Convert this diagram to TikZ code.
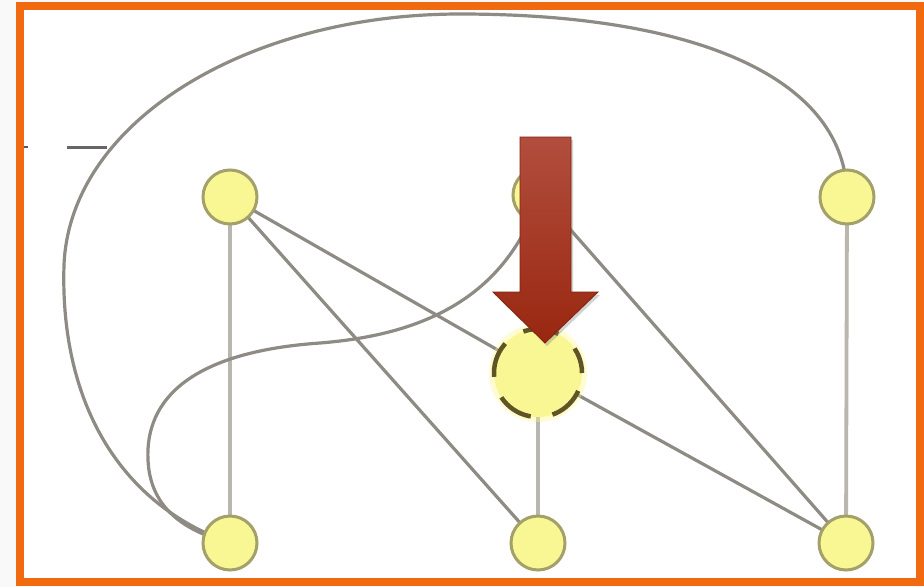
\documentclass[tikz,border=0pt]{standalone}
\usetikzlibrary{shadows}
\definecolor{frameor}{HTML}{F26A0F}
\definecolor{edgegray}{HTML}{8E8B84}
\definecolor{lightedge}{HTML}{B9B5AF}
\definecolor{nodefill}{HTML}{F8F794}
\definecolor{nodeline}{HTML}{A3A06A}
\definecolor{gline}{HTML}{5E5426}
\definecolor{arrtop}{HTML}{B24E3E}
\definecolor{arrbot}{HTML}{992710}
\begin{document}
\begin{tikzpicture}[x=1pt,y=-1pt,
  vert/.style={circle,draw=nodeline,line width=3pt,fill=nodefill,minimum size=54pt,inner sep=0pt},
  bigvert/.style={circle,draw=gline,line width=4.5pt,fill=nodefill,minimum size=88pt,inner sep=0pt,dash pattern=on 36pt off 22pt,dash phase=10pt},
  edge/.style={draw=edgegray,line width=3.2pt},
  ledge/.style={draw=lightedge,line width=3.8pt}]
\useasboundingbox (0,0) rectangle (924,587);
\fill[white!95!gray] (0,0) rectangle (924,587);
\fill[white] (20,6) rectangle (920,582);
% centres
\coordinate (Ac) at (230,197);
\coordinate (Bc) at (540,195);
\coordinate (Cc) at (847,197);
\coordinate (Dc) at (230,543);
\coordinate (Ec) at (538,543);
\coordinate (Fc) at (846,543);
\coordinate (Gc) at (538,373);
% edges
\draw[ledge] (Ac) -- (Dc);
\draw[ledge] (Cc) -- (Fc);
\draw[ledge] (Gc) -- (Ec);
\draw[edge] (Ac) -- (Gc);
\draw[edge] (Ac) -- (Ec);
\draw[edge] (Bc) -- (Fc);
\draw[edge] (Gc) -- (Fc);
\draw[edge] (Dc) .. controls (110,500) and (60,390) .. (64,265)
  .. controls (70,120) and (250,14) .. (460,14)
  .. controls (700,14) and (847,80) .. (Cc);
\draw[edge] (Bc) .. controls (505,300) and (420,335) .. (320,343)
  .. controls (190,352) and (145,400) .. (148,460)
  .. controls (150,505) and (180,530) .. (Dc);
% nodes
\node[vert] (A) at (Ac) {};
\node[vert] (B) at (Bc) {};
\node[vert] (C) at (Cc) {};
\node[vert] (D) at (Dc) {};
\node[vert] (E) at (Ec) {};
\node[vert] (F) at (Fc) {};
\fill[yellow!50!white,opacity=0.35] (Gc) circle (49);
\node[bigvert] (G) at (Gc) {};
% stray marks
\draw[line width=3pt,draw=gray!80!black] (67,147) -- (107,147);
\draw[line width=2pt,draw=gray!70!black] (24,147) -- (28,147);
% arrow
\path[drop shadow={shadow xshift=2pt,shadow yshift=-3pt,opacity=0.35},top color=arrtop,bottom color=arrbot,draw=arrbot!85!black,line width=0.8pt]
  (520,137) -- (571,137) -- (571,292) -- (598,292) -- (545,343) -- (493,292) -- (520,292) -- cycle;
% frame
\draw[frameor,line width=8pt] (20,6) rectangle (920,582);
\end{tikzpicture}
\end{document}
